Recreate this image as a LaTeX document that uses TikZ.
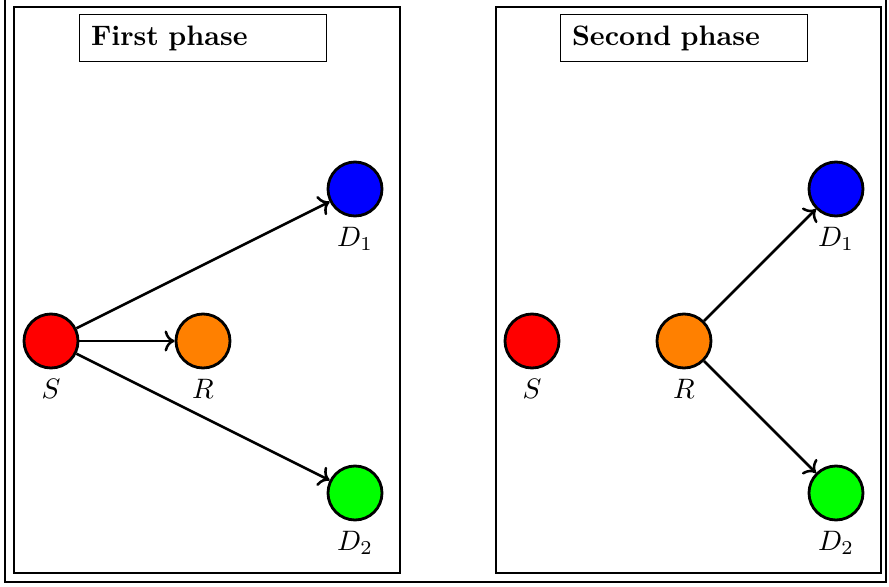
\documentclass[tikz,border=0pt]{standalone}
\usepackage{amsmath,amssymb}
\usetikzlibrary{arrows.meta, positioning}

\begin{document}
\begin{tikzpicture}[
      node distance=1.9cm, on grid,
      phasebox/.style={draw, align=left, text width=2.8cm, inner sep=0.14cm, minimum height=0.575cm, font=\bfseries},
      user/.style={circle, draw, line width=1pt, minimum size=0.675cm, inner sep=0pt, label distance=1pt},
      arr/.style={->, line width=0.9pt}]
    \useasboundingbox (0,0) rectangle (11.1125,7.325);
    \draw (0.0625,0.05) rectangle (11.075,7.45);
    % first phase
    \draw (0.175,0.1625) rectangle (5.0,7.2375);
    \node[phasebox] (t1) at (2.5375,6.85) {First phase};
    \node[user, fill=red, label=below:$S$] (s1) at (0.6375,3.0625) {};
    \node[user, fill=orange, right=of s1, label=below:$R$] (r1) {};
    \node[user, fill=blue, above right=1.9cm and 1.9cm of r1, label=below:$D_1$] (d11) {};
    \node[user, fill=green, below right=1.9cm and 1.9cm of r1, label=below:$D_2$] (d21) {};
    \draw[arr] (s1) -- (d11);
    \draw[arr] (s1) -- (r1);
    \draw[arr] (s1) -- (d21);
    % second phase
    \draw (6.2,0.1625) rectangle (11.0125,7.2375);
    \node[phasebox] (t2) at (8.55,6.85) {Second phase};
    \node[user, fill=red, label=below:$S$] (s2) at (6.65,3.0625) {};
    \node[user, fill=orange, right=of s2, label=below:$R$] (r2) {};
    \node[user, fill=blue, above right=1.9cm and 1.9cm of r2, label=below:$D_1$] (d12) {};
    \node[user, fill=green, below right=1.9cm and 1.9cm of r2, label=below:$D_2$] (d22) {};
    \draw[arr] (r2) -- (d12);
    \draw[arr] (r2) -- (d22);
  \end{tikzpicture}
\end{document}
